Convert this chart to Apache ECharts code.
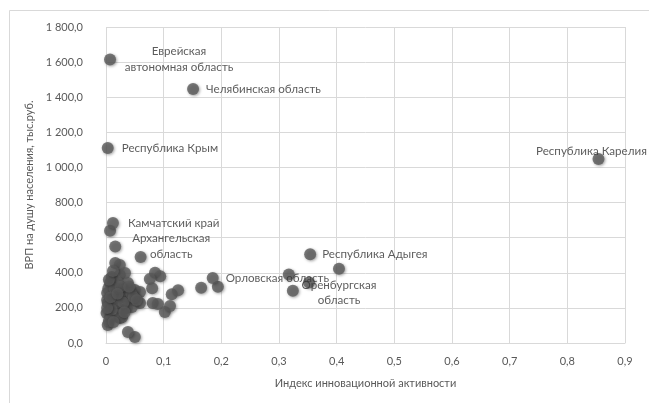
<!DOCTYPE html>
<html>
<head>
<meta charset="utf-8">
<script src="https://cdn.jsdelivr.net/npm/echarts@6/dist/echarts.min.js"></script>
<style>html,body{margin:0;padding:0;background:#fff}#c{width:649px;height:403px}</style>
</head>
<body>
<div id="c"></div>
<script>
// Named regions
const namedRegions = ["Еврейская\nавтономная область", "Челябинская область", "Республика Крым", "Республика Карелия", "Камчатский край", "Архангельская\nобласть", "Республика Адыгея", "Оренбургская\nобласть", "Орловская область"];
const namedX = [0.007, 0.151, 0.003, 0.854, 0.012, 0.016, 0.354, 0.404, 0.185];
const namedY = [1615, 1447, 1111, 1048, 683, 550, 505, 423, 370];

// Other regions (unlabelled)
const otherX = [0.007, 0.06, 0.317, 0.324, 0.352, 0.194, 0.165, 0.085, 0.094, 0.076, 0.08, 0.114, 0.125, 0.081, 0.09, 0.102, 0.111, 0.050, 0.038, 0.016, 0.024, 0.010, 0.024, 0.033, 0.007, 0.021, 0.038, 0.050, 0.059, 0.002, 0.012, 0.029, 0.042, 0.059, 0.003, 0.021, 0.036, 0.007, 0.024, 0.003, 0.045, 0.028, 0.001, 0.002, 0.004, 0.015, 0.030, 0.044, 0.018, 0.010, 0.005, 0.013, 0.030, 0.048, 0.002, 0.008, 0.025, 0.020, 0.032, 0.005, 0.012, 0.040, 0.053];
const otherY = [640, 490, 390, 298, 345, 320, 315, 400, 380, 365, 312, 278, 300, 228, 222, 176, 211, 34, 63, 456, 444, 376, 387, 399, 342, 342, 342, 302, 290, 285, 273, 262, 245, 228, 228, 199, 199, 148, 142, 102, 205, 148, 171, 245, 310, 310, 300, 280, 230, 190, 125, 120, 230, 260, 200, 260, 320, 280, 175, 360, 410, 320, 245];

// Axis ticks
const xTicks = {min: 0, max: 0.9, interval: 0.1};
const yTicks = {min: 0, max: 1800, interval: 200};

const FONT = 'Lato, "Noto Sans", sans-serif';

const labelStyles = [
  {position: 'right', distance: 6, align: 'center', offset: [57, 0], lineHeight: 16},
  {position: 'right', distance: 7},
  {position: 'right', distance: 8},
  {position: 'inside', align: 'center', offset: [-7, -8]},
  {position: 'right', distance: 9},
  {position: 'right', distance: 9, align: 'center', offset: [41, 0], lineHeight: 16},
  {position: 'right', distance: 6},
  {position: 'bottom', distance: 3, align: 'center', lineHeight: 15},
  {position: 'right', distance: 7}
];

const data = [];
otherX.forEach((x, i) => data.push({value: [x, otherY[i]]}));
namedX.forEach((x, i) => data.push({
  value: [x, namedY[i]],
  name: namedRegions[i],
  label: Object.assign({show: true, formatter: namedRegions[i], color: '#333333', fontSize: 11.6, fontFamily: FONT}, labelStyles[i])
}));

function fmtY(v) {
  const s = v.toFixed(1).split('.');
  const int = s[0].replace(/\B(?=(\d{3})+(?!\d))/g, ' ');
  return int + ',' + s[1];
}
function fmtX(v) {
  if (Math.abs(v) < 1e-9) return '0';
  return v.toFixed(1).replace('.', ',');
}

const chart = echarts.init(document.getElementById('c'));
chart.setOption({
  animation: false,
  backgroundColor: '#fff',
  textStyle: {fontFamily: FONT},
  graphic: [{
    type: 'rect', silent: true,
    shape: {x: 9.5, y: 10.5, width: 700, height: 500},
    style: {fill: 'none', stroke: '#d9d9d9', lineWidth: 1}
  }],
  grid: {left: 106, right: 24, top: 27, bottom: 60},
  xAxis: {
    type: 'value', min: xTicks.min, max: xTicks.max, interval: xTicks.interval,
    name: 'Индекс инновационной активности', nameLocation: 'middle', nameGap: 35,
    nameTextStyle: {color: '#595959', fontSize: 11, fontFamily: FONT},
    axisLine: {show: true, lineStyle: {color: '#d9d9d9'}},
    axisTick: {show: false},
    axisLabel: {color: '#595959', fontSize: 11, fontFamily: FONT, margin: 13, formatter: fmtX},
    splitLine: {show: true, lineStyle: {color: '#d9d9d9'}}
  },
  yAxis: {
    type: 'value', min: yTicks.min, max: yTicks.max, interval: yTicks.interval,
    name: 'ВРП на душу населения, тыс.руб.', nameLocation: 'middle', nameGap: 46, nameRotate: 90,
    nameTextStyle: {color: '#595959', fontSize: 11, fontFamily: FONT},
    axisLine: {show: false},
    axisTick: {show: false},
    axisLabel: {color: '#595959', fontSize: 11, fontFamily: FONT, margin: 23, formatter: fmtY},
    splitLine: {show: true, lineStyle: {color: '#d9d9d9'}}
  },
  series: [{
    type: 'scatter',
    symbolSize: 12,
    itemStyle: {color: '#5a5a5a', shadowBlur: 3, shadowColor: 'rgba(0,0,0,0.45)', shadowOffsetX: 1, shadowOffsetY: 1},
    data: data
  }]
});
</script>
</body>
</html>
